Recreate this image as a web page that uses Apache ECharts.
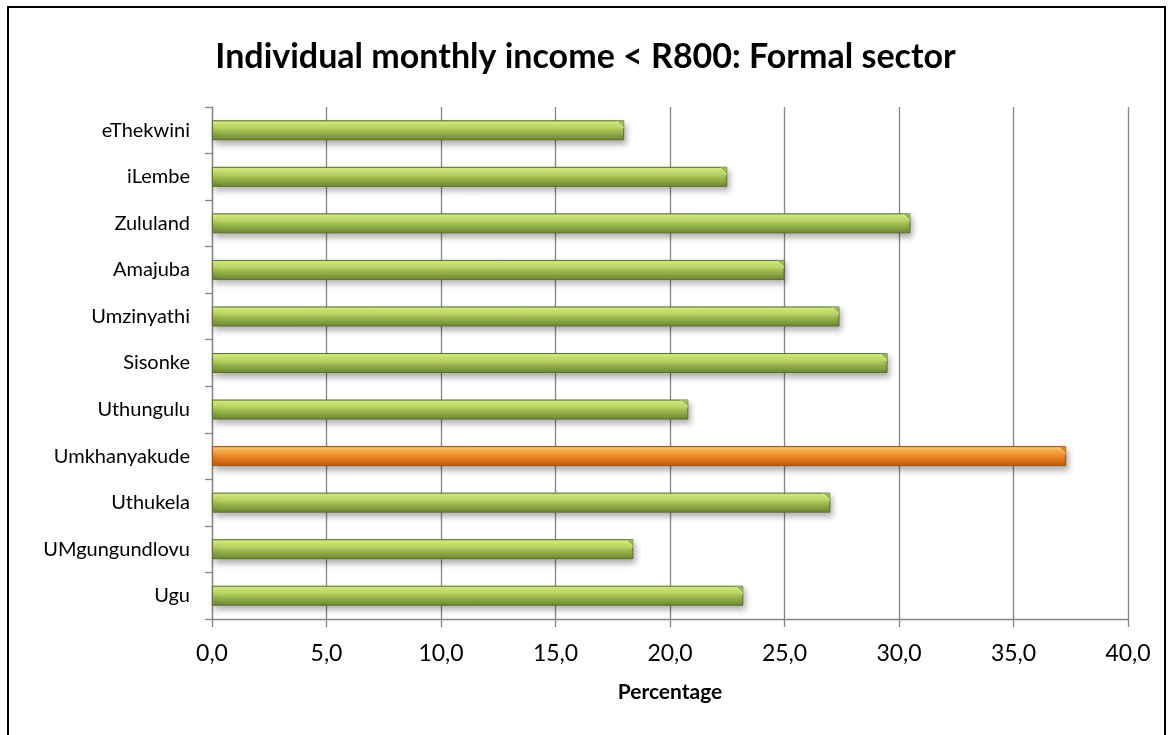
<!DOCTYPE html>
<html>
<head>
<meta charset="utf-8">
<script src="https://cdn.jsdelivr.net/npm/echarts@6/dist/echarts.min.js"></script>
<style>
  html, body { margin: 0; padding: 0; background: #fff; }
  #chart { width: 1171px; height: 735px; }
</style>
</head>
<body>
<div id="chart"></div>
<script>
// Districts, bottom to top as they appear on the axis
const districts = ['Ugu', 'UMgungundlovu', 'Uthukela', 'Umkhanyakude', 'Uthungulu',
  'Sisonke', 'Umzinyathi', 'Amajuba', 'Zululand', 'iLembe', 'eThekwini'];
// Share of formal-sector workers earning less than R800 per month (%)
const shares = [23.2, 18.4, 27.0, 37.3, 20.8, 29.5, 27.4, 25.0, 30.5, 22.5, 18.0];
// District singled out in orange
const highlighted = 'Umkhanyakude';
// Percentage axis ticks
const xTicks = [0, 5, 10, 15, 20, 25, 30, 35, 40];

const FONT = 'Lato, "Open Sans", sans-serif';
const BAR_H = 20;

function barFill(edge, light, light2, mid, dark) {
  return new echarts.graphic.LinearGradient(0, 0, 0, 1, [
    { offset: 0, color: edge },
    { offset: 0.1, color: light },
    { offset: 0.35, color: light2 },
    { offset: 0.62, color: mid },
    { offset: 1, color: dark }
  ]);
}
const palette = {
  green: {
    fill: barFill('#b3cf62', '#d6ee80', '#c0dc66', '#94b24a', '#6c8832'),
    border: '#5b6f31', cap: '#9cb955', capLine: '#e4f5a0'
  },
  orange: {
    fill: barFill('#f3a65a', '#ffc36a', '#f9a040', '#e67d1c', '#bb5a0a'),
    border: '#9c5214', cap: '#e4801f', capLine: '#ffd08a'
  }
};
const styleOf = d => (d === highlighted ? palette.orange : palette.green);

const chart = echarts.init(document.getElementById('chart'));
chart.setOption({
  animation: false,
  backgroundColor: '#fff',
  title: {
    text: 'Individual monthly income < R800: Formal sector',
    left: 'center',
    top: 35,
    textStyle: { fontFamily: FONT, fontWeight: 'bold', fontSize: 34, color: '#000' }
  },
  grid: { left: 212, right: 43, top: 107, bottom: 116 },
  xAxis: {
    type: 'value',
    min: xTicks[0],
    max: xTicks[xTicks.length - 1],
    interval: 5,
    name: 'Percentage',
    nameLocation: 'middle',
    nameGap: 63,
    nameTextStyle: { fontFamily: FONT, fontWeight: 'bold', fontSize: 21, color: '#000' },
    axisLine: { show: true, lineStyle: { color: '#868686', width: 1.3 } },
    axisTick: { show: true, length: 8, lineStyle: { color: '#868686', width: 1.3 } },
    axisLabel: {
      margin: 23,
      fontFamily: FONT, fontSize: 23, color: '#000',
      formatter: v => v.toFixed(1).replace('.', ',')
    },
    splitLine: { show: true, lineStyle: { color: '#868686', width: 1.3 } }
  },
  yAxis: {
    type: 'category',
    data: districts,
    axisLine: { show: true, lineStyle: { color: '#868686', width: 1.3 } },
    axisTick: { show: true, length: 7, alignWithLabel: false, lineStyle: { color: '#868686', width: 1.3 } },
    axisLabel: { margin: 22, fontFamily: FONT, fontSize: 20, color: '#000' }
  },
  series: [{
    type: 'bar',
    barWidth: BAR_H,
    data: districts.map((d, i) => ({
      value: shares[i],
      itemStyle: {
        color: styleOf(d).fill,
        borderColor: styleOf(d).border,
        borderWidth: 1
      }
    })),
    itemStyle: {
      shadowColor: 'rgba(0,0,0,0.3)',
      shadowBlur: 6,
      shadowOffsetX: 2,
      shadowOffsetY: 4
    }
  }, {
    // bevelled end cap on each bar
    type: 'custom',
    silent: true,
    z: 3,
    data: districts.map((d, i) => [shares[i], i]),
    encode: { x: 0, y: 1 },
    renderItem: (params, api) => {
      const p = api.coord([api.value(0), api.value(1)]);
      const s = styleOf(districts[api.value(1)]);
      const right = p[0] - 0.5;
      const top = p[1] - BAR_H / 2 + 0.5;
      const c = 7;
      return {
        type: 'group',
        children: [{
          type: 'polygon',
          shape: { points: [[right - c, top], [right, top], [right, top + c]] },
          style: { fill: s.cap }
        }, {
          type: 'line',
          shape: { x1: right - c, y1: top + 0.5, x2: right, y2: top + c + 0.5 },
          style: { stroke: s.capLine, lineWidth: 1 }
        }]
      };
    }
  }],
  graphic: [{
    type: 'rect',
    shape: { x: 8, y: 7, width: 1157, height: 740 },
    style: { fill: null, stroke: '#000', lineWidth: 2 },
    z: 100
  }]
});
</script>
</body>
</html>
